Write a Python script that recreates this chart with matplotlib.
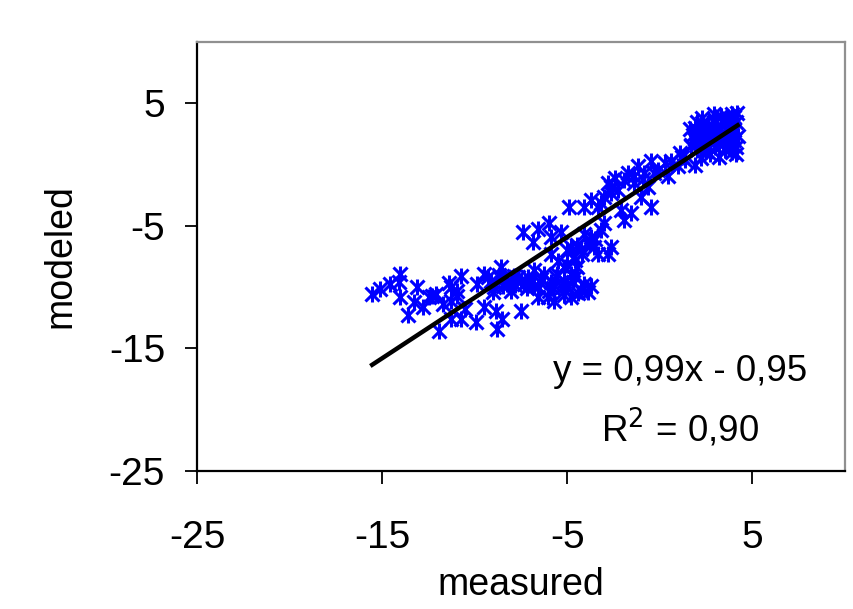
import matplotlib
matplotlib.use("Agg")
import matplotlib.pyplot as plt
import numpy as np

plt.rcParams["font.family"] = ["Liberation Sans", "DejaVu Sans"]
plt.rcParams["axes.unicode_minus"] = False

# measured / modeled pairs
measured = [
    -15.54, -15.09, -14.55, -14.01, -14.10, -14.01, -13.29, -13.11, -12.47, -12.11,
    -11.30, -11.30, -10.76, -10.94, -11.93, -11.30, -10.76, -9.95, -9.50, -8.87,
    -8.51, -8.78, -7.51, -12.29, -11.40, -10.94,
    -9.50, -9.14, -8.60, -8.24, -7.69, -7.33, -6.97, -6.61, -6.25, -5.89,
    -5.53, -5.17, -4.81, -4.45, -4.09, -3.72, -6.07, -5.71, -4.81, -4.27,
    -8.96, -8.05, -6.61, -8.42, -9.86, -6.79, -5.17, -4.63, -4.99, -4.27,
    -7.42, -6.88, -6.61, -5.98, -5.89, -5.35, -4.81, -4.45, -4.09, -3.72,
    -3.54, -3.00, -2.82, -2.64, -3.36, -5.89, -4.90, -4.09, -3.72, -3.36,
    -3.00, -2.64, -2.28, -1.92, -1.74, -2.10, -1.56, -1.92, -1.02, -0.48,
    -1.20, -0.84, -0.48, -0.11, 0.25, 0.43, 0.97, 1.06, 1.33, 1.87,
    1.69, -3.18, -2.64, -1.38, -0.66, -2.82,
    1.70, 1.80, 1.90, 2.00, 2.10, 2.20, 2.30, 2.40, 2.50, 2.60,
    2.70, 2.70, 2.80, 2.90, 3.00, 3.00, 3.10, 3.20, 3.20, 3.30,
    3.40, 3.50, 3.50, 3.60, 3.60, 3.70, 3.80, 3.80, 3.90, 3.90,
    4.00, 4.00, 4.10, 4.10, 4.20, 4.15, 2.20, 2.50, 1.65, 2.00,
    3.30, 2.90, 4.10,
    -9.30, -8.70, -8.30, -7.90, -7.50, -7.10, -6.80, -6.40, -6.00, -5.60,
    -5.30, -5.00, -4.70, -4.40, -9.00, -8.50, -7.80, -7.20, -6.50, -5.80,
    -5.20, -4.60, -3.90, -5.50, -5.00, -4.60, -4.20, -3.80, -3.50, -3.20,
    -12.80, -13.60, -11.70, -10.50, -1.40, -0.90, -0.30, 0.60, 1.20, -2.40,
    2.40, 3.00, 3.70, 1.90, 2.60, 3.40, 4.00, 2.30, 3.10, 3.90,
]
modeled = [
    -10.56, -10.15, -9.73, -8.91, -9.60, -10.83, -11.24, -10.01, -10.83, -10.56,
    -10.01, -11.10, -9.05, -10.28, -13.57, -12.61, -12.61, -12.88, -11.65, -11.93,
    -12.61, -13.43, -11.93, -10.70, -9.70, -10.70,
    -8.91, -9.46, -8.36, -9.73, -9.19, -9.73, -9.46, -10.01, -8.91, -9.60,
    -8.91, -9.46, -8.91, -8.36, -9.73, -9.87, -10.83, -11.10, -10.83, -10.28,
    -10.01, -10.28, -10.83, -9.19, -9.73, -8.64, -8.36, -7.54, -7.00, -6.86,
    -5.49, -6.31, -5.22, -4.80, -5.90, -5.49, -6.72, -6.58, -5.63, -5.90,
    -6.72, -4.80, -7.27, -6.72, -7.27, -7.27, -3.43, -3.43, -2.89, -3.43,
    -2.61, -1.79, -2.07, -1.24, -0.70, -3.71, -3.98, -4.53, -2.61, -3.43,
    -0.15, -0.70, 0.26, -0.42, 0.12, -0.97, -0.15, 0.95, 0.40, -0.01,
    1.50, -3.16, -2.34, -1.52, -1.79, -1.52,
    1.60, 2.40, 3.00, 1.20, 2.00, 2.80, 3.40, 1.60, 2.30, 3.10,
    0.90, 1.90, 2.60, 3.50, 1.40, 2.20, 3.00, 0.60, 1.80, 2.60,
    3.60, 1.20, 2.10, 2.90, 3.90, 1.60, 2.50, 3.30, 4.10, 1.00,
    2.00, 2.80, 3.50, 1.40, 2.30, 4.20, 0.50, 1.10, 2.90, 3.50,
    4.00, 4.10, 0.90,
    -9.20, -9.00, -9.60, -9.10, -9.50, -9.20, -9.90, -9.30, -10.30, -9.20,
    -10.00, -9.90, -9.60, -10.50, -10.40, -9.90, -9.80, -10.10, -9.60, -10.10,
    -10.60, -9.20, -10.40, -7.90, -8.20, -7.80, -7.30, -6.40, -6.10, -5.30,
    -11.60, -12.30, -11.40, -11.80, -0.90, -1.20, -0.70, 0.30, 0.60, -1.10,
    2.90, 3.60, 3.00, 2.10, 1.50, 1.70, 3.90, 3.80, 2.90, 2.60,
]
slope = 0.99
intercept = -0.95
r2 = 0.90
ticks = [-25, -15, -5, 5]

fig = plt.figure(figsize=(8.54, 6.09), dpi=100)
ax = fig.add_axes([0.2307, 0.2266, 0.7588, 0.7044])

ax.plot(measured, modeled, linestyle="", marker="x", color="#0000ff", markersize=10, mew=2.2)
ax.plot(measured, modeled, linestyle="", marker="|", color="#0000ff", markersize=12, mew=2.2)

xl = np.array([min(measured), max(measured)])
ax.plot(xl, slope * xl + intercept, color="black", linewidth=3.2)

ax.set_xlim(-25, 10)
ax.set_ylim(-25, 10)
ax.set_xticks(ticks)
ax.set_yticks(ticks)
ax.tick_params(direction="out", length=9, width=1.3, labelsize=28, pad=14)
ax.tick_params(axis="x", pad=26)

for s in ["left", "bottom"]:
    ax.spines[s].set_color("black")
    ax.spines[s].set_linewidth(1.6)
for s in ["top", "right"]:
    ax.spines[s].set_color("#909090")
    ax.spines[s].set_linewidth(1.6)

ax.set_xlabel("measured", fontsize=27, labelpad=8)
ax.set_ylabel("modeled", fontsize=27, labelpad=22)

ax.text(0.745, 0.231, f"y = {slope:.2f}x - {abs(intercept):.2f}".replace(".", ","),
        transform=ax.transAxes, ha="center", va="center", fontsize=26.5)
ax.text(0.745, 0.100, f"R$^2$ = {r2:.2f}".replace(".", ","),
        transform=ax.transAxes, ha="center", va="center", fontsize=26.5)

fig.savefig("out.png", dpi=100)
